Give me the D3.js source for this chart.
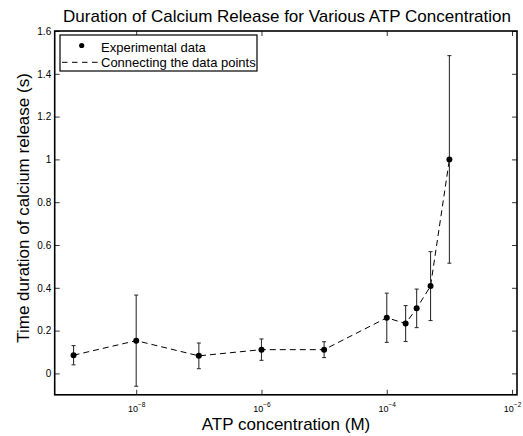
<!DOCTYPE html>
<html><head><meta charset="utf-8">
<script src="https://cdn.jsdelivr.net/npm/d3@7"></script>
<style>body{margin:0;background:#fff}svg{display:block}text{font-family:"Liberation Sans",Arial,sans-serif}</style>
</head><body><svg id="c" width="523" height="436"></svg>
<script>
const concentrations = [1e-9, 1e-8, 1e-7, 1e-6, 1e-5, 1e-4, 2e-4, 3e-4, 5e-4, 1e-3];
const durations = [0.085, 0.153, 0.082, 0.111, 0.111, 0.260, 0.233, 0.304, 0.408, 1.000];
const errors = [0.045, 0.213, 0.060, 0.050, 0.037, 0.115, 0.084, 0.090, 0.161, 0.485];
const xTicks = [1e-8, 1e-6, 1e-4, 1e-2];
const yTicks = [0, 0.2, 0.4, 0.6, 0.8, 1, 1.2, 1.4, 1.6];
const xDomain = [5e-10, 1.2e-2];
const yDomain = [-0.1, 1.6];

const svg = d3.select("#c");
const L = 54.7, R = 517, T = 31, B = 394.8;
const x = d3.scaleLog().domain(xDomain).range([L, R]);
const y = d3.scaleLinear().domain(yDomain).range([B, T]);
const data = concentrations.map((c, i) => ({c, v: durations[i], e: errors[i]}));

const fmtY = d => d3.format("")(d);
const gB = svg.append("g").attr("transform", `translate(0,${B})`)
  .call(d3.axisBottom(x).tickValues(xTicks).tickSize(-5).tickFormat(() => ""));
const gT = svg.append("g").attr("transform", `translate(0,${T})`)
  .call(d3.axisTop(x).tickValues(xTicks).tickSize(-5).tickFormat(() => ""));
const gL = svg.append("g").attr("transform", `translate(${L},0)`)
  .call(d3.axisLeft(y).tickValues(yTicks).tickSize(-5).tickPadding(3.5).tickFormat(fmtY));
const gR = svg.append("g").attr("transform", `translate(${R},0)`)
  .call(d3.axisRight(y).tickValues(yTicks).tickSize(-5).tickFormat(() => ""));
[gB, gT, gL, gR].forEach(g => { g.select(".domain").remove(); g.selectAll(".tick line").attr("stroke", "#000").attr("stroke-width", 0.8); });
gL.selectAll(".tick text").attr("font-size", 10).attr("fill", "#000");

gB.selectAll(".tick").each(function(d) {
  const t = d3.select(this).append("text").attr("y", 17).attr("text-anchor", "middle").attr("fill", "#000").attr("font-size", 9);
  t.append("tspan").text("10");
  t.append("tspan").attr("dy", -4.5).attr("font-size", 6.5).text(String(Math.round(Math.log10(d))).replace("-", "\u2212"));
});

svg.append("rect").attr("x", L).attr("y", T).attr("width", R - L).attr("height", B - T)
  .attr("fill", "none").attr("stroke", "#000").attr("stroke-width", 1.6);

svg.append("path").datum(data)
  .attr("d", d3.line().x(d => x(d.c)).y(d => y(d.v)))
  .attr("fill", "none").attr("stroke", "#000").attr("stroke-width", 1).attr("stroke-dasharray", "6,4");

const eb = svg.append("g").attr("stroke", "#333").attr("stroke-width", 1.1);
data.forEach(d => {
  const cx = x(d.c), y1 = y(d.v + d.e), y2 = y(d.v - d.e);
  eb.append("line").attr("x1", cx).attr("x2", cx).attr("y1", y1).attr("y2", y2);
  eb.append("line").attr("x1", cx - 2).attr("x2", cx + 2).attr("y1", y1).attr("y2", y1);
  eb.append("line").attr("x1", cx - 2).attr("x2", cx + 2).attr("y1", y2).attr("y2", y2);
});
svg.append("g").selectAll("circle").data(data).join("circle")
  .attr("cx", d => x(d.c)).attr("cy", d => y(d.v)).attr("r", 3).attr("fill", "#000");

const lg = svg.append("g");
lg.append("rect").attr("x", 60).attr("y", 35).attr("width", 197).attr("height", 36)
  .attr("fill", "#fff").attr("stroke", "#000").attr("stroke-width", 1.2);
lg.append("circle").attr("cx", 81.7).attr("cy", 45.5).attr("r", 2.6).attr("fill", "#000");
lg.append("line").attr("x1", 62).attr("x2", 99).attr("y1", 62.3).attr("y2", 62.3)
  .attr("stroke", "#000").attr("stroke-width", 1).attr("stroke-dasharray", "5.5,4.5");
lg.append("text").attr("x", 101).attr("y", 51.5).attr("font-size", 13).text("Experimental data");
lg.append("text").attr("x", 101).attr("y", 66.5).attr("font-size", 13).text("Connecting the data points");

svg.append("text").attr("x", 287).attr("y", 22).attr("text-anchor", "middle").attr("font-size", 17)
  .text("Duration of Calcium Release for Various ATP Concentration");
svg.append("text").attr("x", 286).attr("y", 430).attr("text-anchor", "middle").attr("font-size", 17)
  .text("ATP concentration (M)");
svg.append("text").attr("transform", `translate(29,208) rotate(-90)`).attr("text-anchor", "middle").attr("font-size", 17)
  .text("Time duration of calcium release (s)");
</script></body></html>
